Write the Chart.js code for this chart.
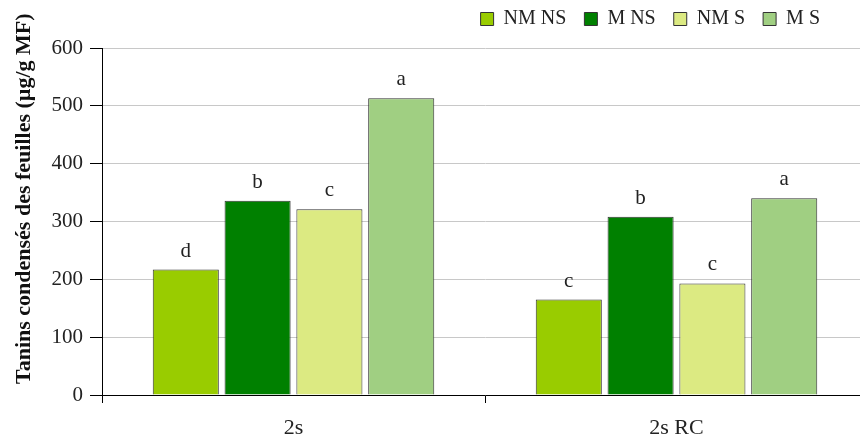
<!DOCTYPE html>
<html>
<head>
<meta charset="utf-8">
<script src="https://cdn.jsdelivr.net/npm/chart.js@4/dist/chart.umd.min.js"></script>
<style>
  html, body { margin: 0; padding: 0; background: #fff; overflow: hidden; }
  #wrap { width: 868px; height: 441px; }
</style>
</head>
<body>
<div id="wrap"><canvas id="tanninChart"></canvas></div>
<script>
// Categories and series
const categories = ['2s', '2s RC'];
const seriesNames = ['NM NS', 'M NS', 'NM S', 'M S'];
const nmNs = [217, 165];
const mNs = [336, 308];
const nmS = [321, 193];
const mS = [513, 340];
const letters = [['d', 'c'], ['b', 'b'], ['c', 'c'], ['a', 'a']];
const yTicks = [0, 100, 200, 300, 400, 500, 600];

const colors = ['#99cc00', '#008000', '#dcea82', '#a0cf82'];
const serif = "'Liberation Serif', 'DejaVu Serif', serif";

const tanninContext = document.getElementById('tanninChart').getContext('2d');

// Letters above each bar + rotated y title
const annotatePlugin = {
    id: 'annotate',
    afterLayout(chart) {
        // nudge the legend left and up to where it sits in the original
        const lg = chart.legend;
        lg.left -= 30; lg.right -= 30;
        lg.top -= 9; lg.bottom -= 9;
    },
    afterDatasetsDraw(chart) {
        const ctx = chart.ctx;
        ctx.save();
        ctx.fillStyle = '#222';
        ctx.font = '21px ' + serif;
        ctx.textAlign = 'center';
        ctx.textBaseline = 'alphabetic';
        chart.data.datasets.forEach((ds, i) => {
            chart.getDatasetMeta(i).data.forEach((bar, j) => {
                ctx.fillText(letters[i][j], bar.x, bar.y - 13);
            });
        });
        ctx.restore();
    },
    afterDraw(chart) {
        const ctx = chart.ctx;
        ctx.save();
        ctx.translate(30, 384);
        ctx.rotate(-Math.PI / 2);
        ctx.fillStyle = '#111';
        ctx.font = 'bold 22px ' + serif;
        ctx.textAlign = 'left';
        ctx.textBaseline = 'alphabetic';
        ctx.fillText('Tanins condensés des feuilles (µg/g MF)', 0, 0);
        ctx.restore();
    }
};

const datasets = [nmNs, mNs, nmS, mS].map((values, i) => ({
    label: seriesNames[i],
    data: values,
    backgroundColor: colors[i],
    borderColor: '#333',
    borderWidth: 1,
    categoryPercentage: 0.75,
    barPercentage: 0.92
}));

new Chart(tanninContext, {
    type: 'bar',
    data: { labels: categories, datasets: datasets },
    plugins: [annotatePlugin],
    options: {
        responsive: true,
        maintainAspectRatio: false,
        animation: false,
        layout: { padding: { top: 0, left: 0, right: 0, bottom: 0 } },
        plugins: {
            legend: {
                display: true,
                position: 'top',
                align: 'end',
                labels: {
                    font: { family: serif, size: 20 },
                    color: '#222',
                    boxWidth: 13,
                    boxHeight: 13,
                    padding: 18
                }
            },
            tooltip: { enabled: false }
        },
        scales: {
            y: {
                min: 0,
                max: 600,
                afterBuildTicks(scale) {
                    scale.ticks = yTicks.map(v => ({ value: v }));
                },
                afterFit(scale) { scale.width = 102; },
                border: { color: '#000', width: 1 },
                grid: { color: '#c8c8c8', tickColor: '#000', tickLength: 12 },
                ticks: { font: { family: serif, size: 21 }, color: '#222', padding: 7 }
            },
            x: {
                afterFit(scale) { scale.height = 46; },
                border: { color: '#000', width: 1 },
                grid: { drawOnChartArea: false, tickColor: '#000', tickLength: 8, offset: true },
                ticks: { font: { family: serif, size: 22 }, color: '#222', padding: 12 }
            }
        }
    }
});
</script>
</body>
</html>
